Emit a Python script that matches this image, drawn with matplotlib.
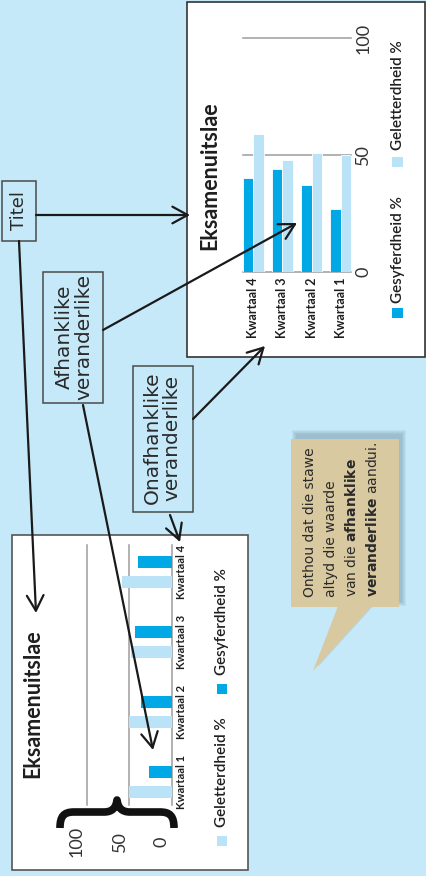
import numpy as np
import matplotlib
matplotlib.use("Agg")
import matplotlib.pyplot as plt
from matplotlib import transforms
from matplotlib.patches import Rectangle, Polygon, PathPatch
from matplotlib.path import Path

W, H = 427, 876
FUNDO = "#C6E9F9"
AZUL = "#00A8E6"
AZUL_CLARO = "#BAE3F7"
TAN = "#D8C9A1"
TINTA = "#1E1E1E"
GRADE = "#9C9C9C"
BREED = ["DejaVu Sans"]

# data
kwartale = ["Kwartaal 1", "Kwartaal 2", "Kwartaal 3", "Kwartaal 4"]
gesyferdheid = [27, 37, 44, 40]
geletterdheid = [50, 51, 48, 59]
waarde_ticks = [0, 50, 100]

plt.rcParams["font.family"] = ["Lato", "DejaVu Sans"]
plt.rcParams["mathtext.fontset"] = "custom"
plt.rcParams["mathtext.rm"] = "DejaVu Sans"
plt.rcParams["mathtext.bf"] = "DejaVu Sans:bold"


def frac(x0, y0, x1, y1):
    # pixel box (y down) -> figure fraction
    return [x0 / W, 1 - y1 / H, (x1 - x0) / W, (y1 - y0) / H]


fig = plt.figure(figsize=(W / 100, H / 100), dpi=100, facecolor=FUNDO)

base = fig.add_axes([0, 0, 1, 1], zorder=0)
base.set_xlim(0, W)
base.set_ylim(H, 0)
base.axis("off")

boven = fig.add_axes([0, 0, 1, 1], zorder=5)
boven.set_xlim(0, W)
boven.set_ylim(H, 0)
boven.axis("off")
boven.patch.set_alpha(0)

# ---- frames ----
base.add_patch(Rectangle((187, 2), 238, 355, facecolor="white",
                         edgecolor="#333333", lw=1.2))
base.add_patch(Rectangle((12, 535), 236, 335, facecolor="white",
                         edgecolor="#555555", lw=1.2))

# ---- top chart (rotated horizontal bars -> vertical in picture) ----
ax1 = fig.add_axes(frac(243, 38, 351, 272), zorder=2)
ax1.patch.set_alpha(0)
pos1 = np.arange(len(kwartale))[::-1]
w = 0.345
ax1.bar(pos1 - w / 2, gesyferdheid, w, color=AZUL, edgecolor="white",
        lw=0.6, zorder=2)
ax1.bar(pos1 + w / 2, geletterdheid, w, color=AZUL_CLARO, edgecolor="white",
        lw=0.6, zorder=2)
ax1.set_xlim(-0.362, 3.362)
ax1.set_ylim(0, 100)
for v in waarde_ticks:
    ax1.axhline(v, color=GRADE, lw=1.1, zorder=1, clip_on=False)
for s in ax1.spines.values():
    s.set_visible(False)
ax1.set_xticks(pos1, kwartale, rotation=90, fontweight="bold", fontsize=9,
               color=TINTA)
ax1.tick_params(axis="x", length=0, pad=4)
ax1.yaxis.tick_right()
ax1.set_yticks(waarde_ticks, [str(v) for v in waarde_ticks], rotation=90,
               va="center", fontsize=13, color="#333333")
ax1.tick_params(axis="y", length=0, pad=3)

base.text(210, 176, "Eksamenuitslae", rotation=90, ha="center", va="center",
          fontsize=15.5, fontweight="bold", color=TINTA)
base.add_patch(Rectangle((392, 308), 11, 10, facecolor=AZUL, lw=0))
base.text(398, 250, "Gesyferdheid %", rotation=90, ha="center", va="center",
          fontsize=11, fontweight="semibold", color=TINTA)
base.add_patch(Rectangle((392, 157), 11, 10, facecolor=AZUL_CLARO, lw=0))
base.text(398, 95, "Geletterdheid %", rotation=90, ha="center", va="center",
          fontsize=11, fontweight="semibold", color=TINTA)

# ---- bottom chart (rotated vertical bars -> horizontal in picture) ----
ax2 = fig.add_axes(frac(87, 545, 172, 805), zorder=2)
ax2.patch.set_alpha(0)
pos2 = np.arange(len(kwartale))
h = 0.175
ax2.barh(pos2 - 0.143, geletterdheid, h, color=AZUL_CLARO, zorder=2)
ax2.barh(pos2 + 0.143, gesyferdheid, h, color=AZUL, zorder=2)
ax2.set_xlim(100, 0)
ax2.set_ylim(-0.33, 3.386)
for v in waarde_ticks:
    ax2.axvline(v, color=GRADE, lw=1.1, zorder=1, clip_on=False)
for s in ax2.spines.values():
    s.set_visible(False)
ax2.set_xticks([])
ax2.yaxis.tick_right()
ax2.set_yticks(pos2, kwartale, rotation=90, va="center", fontweight="bold",
               fontsize=8, color=TINTA)
ax2.tick_params(axis="y", length=0, pad=3)

trans = (transforms.blended_transform_factory(ax2.transData, ax2.transAxes)
         + transforms.ScaledTranslation(-0.10, 0, fig.dpi_scale_trans))
for v in waarde_ticks:
    ax2.text(v, -0.142, str(v), rotation=90, ha="center", va="center",
             fontsize=13, color="#333333", transform=trans, clip_on=False)

base.text(33, 704, "Eksamenuitslae", rotation=90, ha="center", va="center",
          fontsize=15.5, fontweight="bold", color=TINTA)
base.add_patch(Rectangle((217, 836), 10, 10, facecolor=AZUL_CLARO, lw=0))
base.text(222, 772, "Geletterdheid %", rotation=90, ha="center", va="center",
          fontsize=11, fontweight="semibold", color=TINTA)
base.add_patch(Rectangle((217, 684), 10, 10, facecolor=AZUL, lw=0))
base.text(222, 622, "Gesyferdheid %", rotation=90, ha="center", va="center",
          fontsize=11, fontweight="semibold", color=TINTA)

# brace under the value labels
krul = Path(
    [(60, 828), (60, 816), (64, 812), (74, 812), (104, 812),
     (112, 812), (116, 808), (117, 800),
     (118, 808), (122, 812), (130, 812), (160, 812),
     (170, 812), (174, 816), (174, 828)],
    [Path.MOVETO, Path.CURVE4, Path.CURVE4, Path.CURVE4, Path.LINETO,
     Path.CURVE4, Path.CURVE4, Path.CURVE4,
     Path.CURVE4, Path.CURVE4, Path.CURVE4, Path.LINETO,
     Path.CURVE4, Path.CURVE4, Path.CURVE4])
base.add_patch(PathPatch(krul, facecolor="none", edgecolor="#111111", lw=5.5,
                         capstyle="butt", joinstyle="round", zorder=3))

# ---- label boxes ----
for (x, y, bw, bh) in [(2, 181, 34, 60), (43, 272, 60, 131),
                       (133, 366, 60, 146)]:
    base.add_patch(Rectangle((x, y), bw, bh, facecolor="none",
                             edgecolor="#4A4A4A", lw=1.1))
base.text(19, 211, "Titel", rotation=90, ha="center", va="center",
          fontsize=13, color="#2A2A2A", family=BREED)
base.text(74, 337, "Afhanklike\nveranderlike", rotation=90, ha="center",
          va="center", fontsize=14.5, linespacing=1.05, color="#2A2A2A",
          family=BREED)
base.text(162, 438, "Onafhanklike\nveranderlike", rotation=90, ha="center",
          va="center", fontsize=14.5, linespacing=1.05, color="#2A2A2A",
          family=BREED)

# ---- callout ----
for k in range(5):
    base.add_patch(Rectangle((296 - k, 434 - k), 106 + 2 * k, 168 + 2 * k,
                             facecolor="#4F6E82", alpha=0.08, lw=0))
base.add_patch(Polygon([(343, 602), (377, 602), (318, 667)], closed=True,
                       facecolor="#4F6E82", alpha=0.15, lw=0))
base.add_patch(Rectangle((291, 439), 108, 168, facecolor=TAN, lw=0))
base.add_patch(Polygon([(338, 606), (372, 606), (313, 671)], closed=True,
                       facecolor=TAN, lw=0))
wenk = ["Onthou dat die stawe", "altyd die waarde",
        r"van die $\mathbf{afhanklike}$", r"$\mathbf{veranderlike}$ aandui."]
for x, reel in zip([310, 331, 352, 373], wenk):
    base.text(x, 597, reel, rotation=90, ha="center", va="bottom",
              fontsize=10, color="#2A2A2A", family=BREED)

# ---- arrows ----
pyle = [((36, 215), (190, 215)), ((19, 241), (36, 613)),
        ((103, 330), (297, 223)), ((83, 405), (153, 750)),
        ((193, 419), (265, 346)), ((170, 515), (180, 542))]
for begin, punt in pyle:
    boven.annotate("", xy=punt, xytext=begin,
                   arrowprops=dict(arrowstyle="->,head_length=0.55,head_width=0.3",
                                   lw=1.6, color="#1A1A1A", mutation_scale=20,
                                   shrinkA=0, shrinkB=0))

fig.savefig("out.png", dpi=100, facecolor=FUNDO)
